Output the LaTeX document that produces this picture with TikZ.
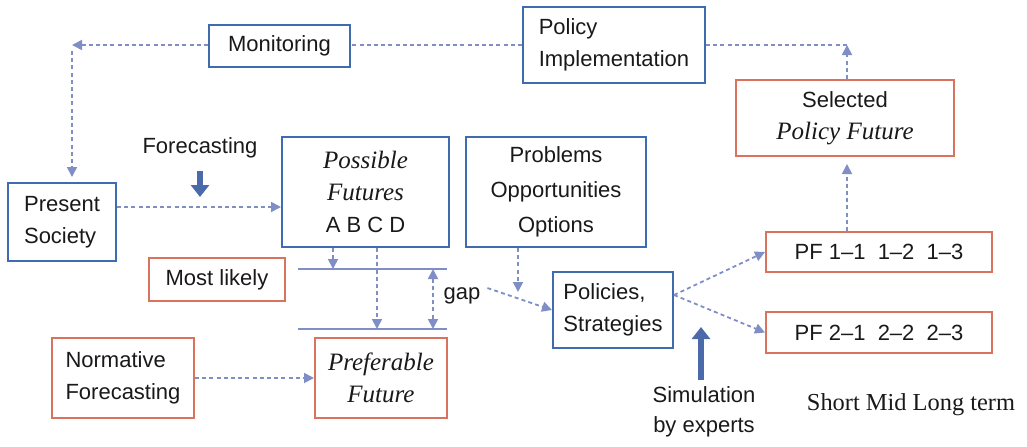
\documentclass[tikz,border=0pt]{standalone}
\usepackage{fontspec}
\setmainfont{Liberation Sans}
\newfontfamily\serifit{Liberation Serif}
\usetikzlibrary{arrows.meta}
\definecolor{boxblue}{HTML}{3F6CAF}
\definecolor{boxred}{HTML}{D9735E}
\definecolor{dashblue}{HTML}{7F8FC6}
\definecolor{fatblue}{HTML}{4A6AAA}
\newcommand\fut[1]{{\serifit\itshape\fontsize{12.5}{16}\selectfont #1}}
\begin{document}
\begin{tikzpicture}[x=0.5pt,y=-0.5pt,
  every node/.style={font=\fontsize{11}{16}\selectfont, text=black!90},
  bbox/.style={draw=boxblue, line width=1pt, inner sep=0pt},
  rbox/.style={draw=boxred, line width=1pt, inner sep=0pt},
  dln/.style={dashblue, line width=0.9pt, dash pattern=on 2pt off 1.6pt},
  darr/.style={dln, -{Triangle[length=5pt,width=5pt]}},
  fat/.style={fatblue, line width=2.6pt, -{Triangle[length=6pt,width=9pt]}}]
\useasboundingbox (0,0) rectangle (1027,446);
\node[bbox, minimum width=70.5pt, minimum height=21pt] (mon) at (279.5,46) {Monitoring};
\node[bbox, minimum width=91pt, minimum height=38pt, align=left] (pimp) at (614,45) {Policy\\Implementation};
\node[rbox, minimum width=109pt, minimum height=38pt, align=center] (sel) at (845,118) {Selected\\\fut{Policy Future}};
\node[bbox, minimum width=83.5pt, minimum height=55pt, align=center] (pos) at (365.5,192) {\fut{Possible}\\\fut{Futures}\\A B C D};
\node[bbox, minimum width=90pt, minimum height=55pt, align=center, font=\fontsize{11}{17.5}\selectfont] (prob) at (556,192) {Problems\\Opportunities\\Options};
\node[bbox, minimum width=54pt, minimum height=39pt, align=left] (ps) at (62,222) {Present\\Society};
\node[rbox, minimum width=68pt, minimum height=21.5pt] (ml) at (217,279.5) {Most likely};
\node[rbox, minimum width=71pt, minimum height=40pt, align=left] (nf) at (123,378) {Normative\\Forecasting};
\node[rbox, minimum width=66pt, minimum height=40pt, align=center] (pref) at (381,378) {\fut{Preferable}\\\fut{Future}};
\node[bbox, minimum width=60pt, minimum height=38pt, align=left] (pol) at (613,310) {Policies,\\Strategies};
\node[rbox, minimum width=113pt, minimum height=20pt] (pf1) at (879,252) {PF 1–1\ \ 1–2\ \ 1–3};
\node[rbox, minimum width=113pt, minimum height=20.5pt] (pf2) at (879,332.5) {PF 2–1\ \ 2–2\ \ 2–3};
\node (fc) at (200,148) {Forecasting};
\node[align=center, font=\fontsize{11}{15}\selectfont] (sim) at (704,412) {Simulation\\by experts};
\node (gap) at (462,296) {gap};
\node (term) at (911,405) {\serifit\fontsize{12.2}{14}\selectfont Short Mid Long term};
\coordinate (u1) at (298,269); \coordinate (u2) at (447,269);
\coordinate (w1) at (298,329); \coordinate (w2) at (447,329);
\draw[dashblue, line width=1pt] (u1) -- (u2); \draw[dashblue, line width=1pt] (w1) -- (w2);
\coordinate (ua) at (333,269); \coordinate (wc) at (377,329);
\coordinate (ug) at (433,269); \coordinate (wg) at (433,329);
\draw[darr] (pos.south -| ua) -- (ua);
\draw[darr] (pos.south -| wc) -- (wc);
\draw[dln, {Triangle[length=5pt,width=5pt]}-{Triangle[length=5pt,width=5pt]}] (ug) -- (wg);
\coordinate (cm) at (72,45); \draw[darr] (mon.west |- cm) -- (cm);
\draw[darr, shorten <=3pt, shorten >=2.5pt] (cm) -- (ps.north -| cm);
\draw[dln] (pimp.west) -- (pimp.west -| mon.east);
\coordinate (cs) at (847,45); \draw[dln] (pimp.east) -- (cs); \draw[darr] (sel.north -| cs) -- (cs);
\draw[darr, shorten >=3.5pt] (pf1.north -| cs) -- (sel.south -| cs);
\draw[darr] ([yshift=7.5pt]ps.east) -- ([yshift=-7.5pt]pos.west);
\draw[darr] (nf.east) -- (pref.west);
\coordinate (cp) at (518,292); \draw[darr] (prob.south -| cp) -- (cp);
\draw[darr] ([yshift=4pt]gap.east) -- (pol.west);
\draw[darr] ([yshift=7.5pt]pol.east) -- (pf1.west); \draw[darr] ([yshift=7.5pt]pol.east) -- (pf2.west);
\coordinate (cf) at (200,197); \draw[fat, shorten <=3pt] (fc.south) -- (cf);
\coordinate (ce) at (701,327); \draw[fat] (sim.north -| ce) -- (ce);
\end{tikzpicture}
\end{document}
